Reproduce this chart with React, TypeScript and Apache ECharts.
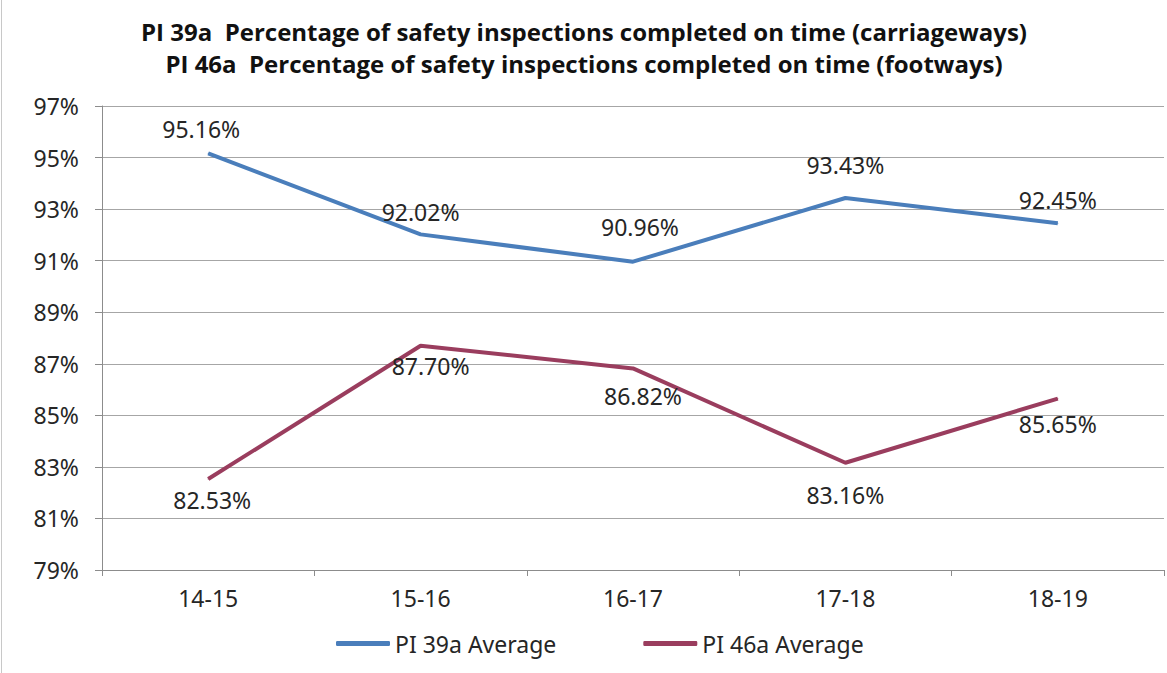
import React, { useEffect, useRef } from "react";
import * as echarts from "echarts";

const categories = ["14-15", "15-16", "16-17", "17-18", "18-19"];
const pi39a = [95.16, 92.02, 90.96, 93.43, 92.45];
const pi46a = [82.53, 87.7, 86.82, 83.16, 85.65];
const seriesNames = ["PI 39a Average", "PI 46a Average"];
const titleLines = [
  "PI 39a  Percentage of safety inspections completed on time (carriageways)",
  "PI 46a  Percentage of safety inspections completed on time (footways)",
];
const yMin = 79;
const yMax = 97;
const yStep = 2;

// label placement tweaks (style only)
const blueLabelOffsets = [[-7, -7], [0, -5], [7, -18], [0, -16], [0, -6]];
const redLabelOffsets = [[4, 4], [10, 3], [10, 11], [0, 15], [0, 8]];

const BLUE = "#4A7EBB";
const RED = "#9A3D5E";
const TEXT = "#262626";
const FONT = "'Noto Sans', 'Open Sans', sans-serif";

export default function App() {
  const ref = useRef<HTMLDivElement>(null);
  useEffect(() => {
    if (!ref.current) return;
    const chart = echarts.init(ref.current, null, { renderer: "svg" });
    const mk = (vals: number[], offs: number[][]) =>
      vals.map((v, i) => ({ value: v, label: { offset: offs[i] } }));
    chart.setOption({
      animation: false,
      backgroundColor: "#fff",
      title: {
        text: titleLines.join("\n"),
        left: 579,
        top: 10,
        textAlign: "center",
        textStyle: {
          fontFamily: "'Open Sans', sans-serif",
          fontWeight: "bold",
          fontSize: 24,
          lineHeight: 32,
          color: "#111",
        },
      },
      graphic: [
        {
          type: "line",
          shape: { x1: 1.5, y1: 0, x2: 1.5, y2: 673 },
          style: { stroke: "#C8C8C8", lineWidth: 1 },
        },
      ],
      legend: {
        left: 331,
        top: 627,
        itemGap: 87,
        itemWidth: 54,
        itemHeight: 5,
        icon: "roundRect",
        textStyle: { fontFamily: FONT, fontSize: 23, color: TEXT, padding: [0, 0, 0, 0] },
        data: seriesNames,
      },
      grid: { left: 102, right: 3, top: 106, bottom: 103, containLabel: false },
      xAxis: {
        type: "category",
        data: categories,
        boundaryGap: true,
        axisLine: { lineStyle: { color: "#8C8C8C", width: 1 } },
        axisTick: { show: true, length: 6, alignWithLabel: false, lineStyle: { color: "#8C8C8C" } },
        axisLabel: { fontFamily: FONT, fontSize: 23, color: TEXT, margin: 16 },
      },
      yAxis: {
        type: "value",
        min: yMin,
        max: yMax,
        interval: yStep,
        axisLine: { show: true, lineStyle: { color: "#8C8C8C", width: 1 } },
        axisTick: { show: true, length: 7, lineStyle: { color: "#8C8C8C" } },
        splitLine: { lineStyle: { color: "#A6A6A6", width: 1 } },
        axisLabel: {
          fontFamily: FONT,
          fontSize: 23,
          color: TEXT,
          margin: 23,
          formatter: (v: number) => `${v}%`,
        },
      },
      series: [
        {
          name: seriesNames[0],
          type: "line",
          data: mk(pi39a, blueLabelOffsets),
          symbol: "circle",
          symbolSize: 1,
          showSymbol: true,
          itemStyle: { color: BLUE },
          lineStyle: { color: BLUE, width: 4 },
          label: {
            show: true,
            position: "top",
            fontFamily: FONT,
            fontSize: 23,
            color: TEXT,
            formatter: (p: any) => `${Number(p.value).toFixed(2)}%`,
          },
        },
        {
          name: seriesNames[1],
          type: "line",
          data: mk(pi46a, redLabelOffsets),
          symbol: "circle",
          symbolSize: 1,
          showSymbol: true,
          itemStyle: { color: RED },
          lineStyle: { color: RED, width: 4 },
          label: {
            show: true,
            position: "bottom",
            fontFamily: FONT,
            fontSize: 23,
            color: TEXT,
            formatter: (p: any) => `${Number(p.value).toFixed(2)}%`,
          },
        },
      ],
    });
    return () => chart.dispose();
  }, []);
  return (
    <div
      ref={ref}
      style={{ position: "fixed", left: 0, top: 0, width: 1167, height: 673 }}
    />
  );
}
